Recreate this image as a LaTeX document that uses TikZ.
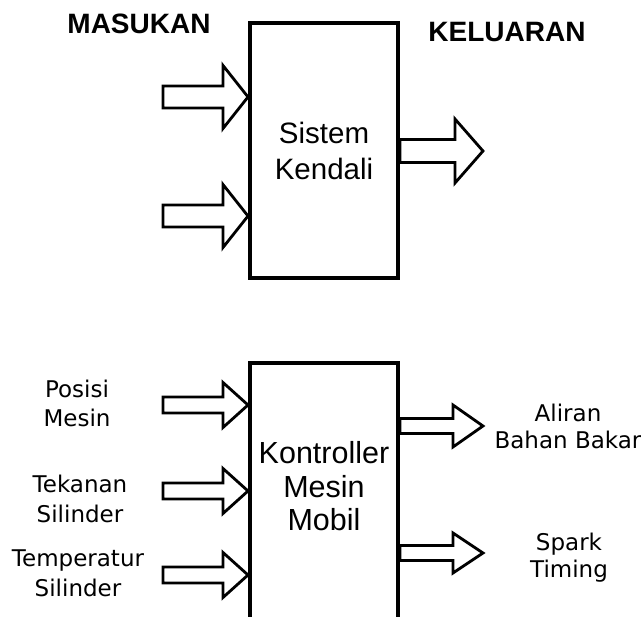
\documentclass[tikz,border=0pt]{standalone}
\usepackage{fontspec}
\setmainfont{Liberation Sans}
\newfontfamily\dejavu{DejaVu Sans}
\usetikzlibrary{calc}

\newcommand{\blokpanah}[6]{%
  \coordinate (#1) at ($(#3)!#6!(#2)$);
  \draw[panah] ($(#2)!#4!90:(#3)$) -- ($(#1)!#4!90:(#3)$) -- ($(#1)!#5!90:(#3)$) -- (#3)
    -- ($(#1)!#5!-90:(#3)$) -- ($(#1)!#4!-90:(#3)$) -- ($(#2)!#4!-90:(#3)$) -- cycle;
}

\begin{document}
\begin{tikzpicture}[
  x=1pt, y=-1pt,
  judul/.style={font=\bfseries\fontsize{28}{34}\selectfont, anchor=base, inner sep=0pt},
  blok/.style={draw=black, line width=4pt, minimum width=148pt, align=center, inner sep=0pt},
  teksmasuk/.style={font=\dejavu\fontsize{23}{29.5}\selectfont, align=center, inner sep=0pt},
  tekskeluar/.style={font=\dejavu\fontsize{23}{27}\selectfont, align=center, inner sep=0pt},
  panah/.style={draw=black, fill=white, line width=2.8pt}
]
  \useasboundingbox (0,0) rectangle (641,617);

  \node[judul] (masukan) at (139,34) {MASUKAN};
  \node[judul] (keluaran) at (507,42) {KELUARAN};

  \node[blok, minimum height=255pt, font=\fontsize{29.5}{36}\selectfont] (sistem) at (324,150.5) {Sistem\\Kendali};
  \node[blok, minimum height=280pt] (kontrol) at (324,503) {};
  \node[inner sep=0pt, align=center, font=\fontsize{30.5}{33.5}\selectfont] (kontrolteks) at (324,486.5) {Kontroller\\Mesin\\Mobil};

  \node[teksmasuk] (posisi) at (77,403.5) {Posisi\\Mesin};
  \node[teksmasuk] (tekanan) at (80,499) {Tekanan\\Silinder};
  \node[teksmasuk] (temperatur) at (78,573.5) {Temperatur\\Silinder};
  \node[tekskeluar] (aliran) at (568,426.5) {Aliran\\Bahan Bakar};
  \node[tekskeluar] (spark) at (569,557.5) {Spark\\Timing};

  \coordinate (a1) at (163,97);
  \coordinate (a2) at (163,216);
  \coordinate (b1) at (483,151);
  \coordinate (c1) at (163,405);
  \coordinate (c2) at (163,491);
  \coordinate (c3) at (163,575);
  \coordinate (d1) at (483,426);
  \coordinate (d2) at (483,553);

  \blokpanah{a1k}{a1}{sistem.west |- a1}{11pt}{31.5pt}{25pt}
  \blokpanah{a2k}{a2}{sistem.west |- a2}{11pt}{31.5pt}{25pt}
  \blokpanah{b1k}{sistem.east |- b1}{b1}{11.5pt}{32pt}{28pt}
  \blokpanah{c1k}{c1}{kontrol.west |- c1}{8pt}{22.5pt}{25pt}
  \blokpanah{c2k}{c2}{kontrol.west |- c2}{8pt}{22.5pt}{25pt}
  \blokpanah{c3k}{c3}{kontrol.west |- c3}{8pt}{22.5pt}{25pt}
  \blokpanah{d1k}{kontrol.east |- d1}{d1}{7.5pt}{21pt}{30pt}
  \blokpanah{d2k}{kontrol.east |- d2}{d2}{7.5pt}{20pt}{30pt}
\end{tikzpicture}
\end{document}
